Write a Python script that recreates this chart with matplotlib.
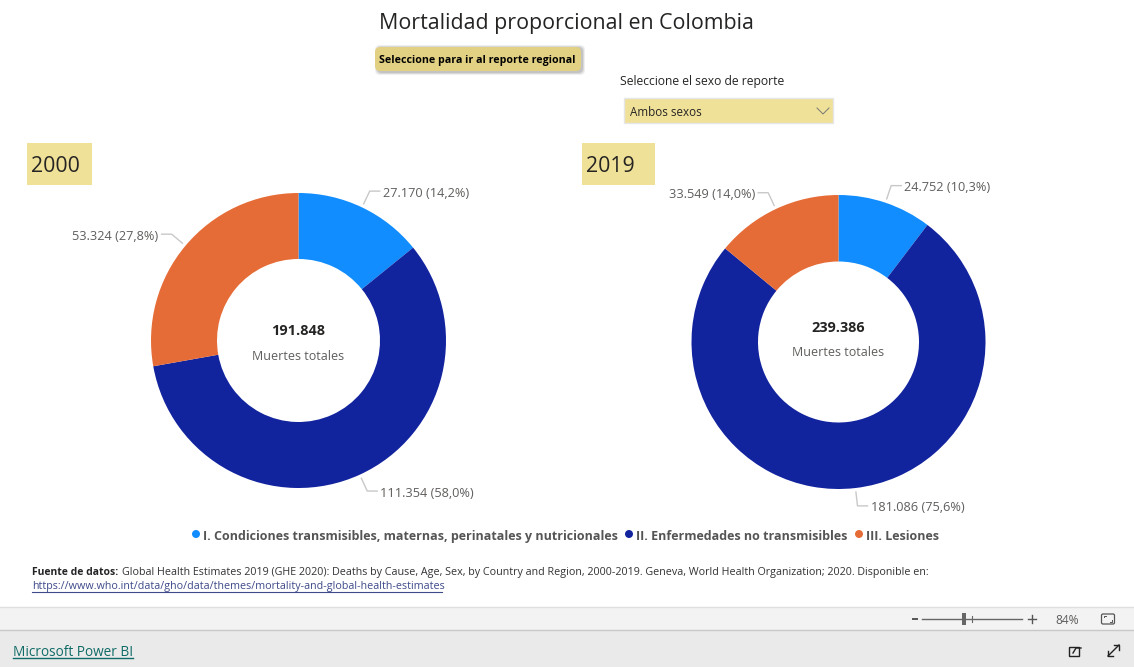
import numpy as np
import matplotlib
matplotlib.use('Agg')
import matplotlib.pyplot as plt
from matplotlib.patches import Rectangle, FancyBboxPatch, Circle

plt.rcParams['font.family'] = ['Open Sans', 'DejaVu Sans']

# Data
years = ['2000', '2019']
values_2000 = [27170, 111354, 53324]
values_2019 = [24752, 181086, 33549]
percent_2000 = ['14,2%', '58,0%', '27,8%']
percent_2019 = ['10,3%', '75,6%', '14,0%']
totals = ['191.848', '239.386']
categories = ['I. Condiciones transmisibles, maternas, perinatales y nutricionales',
              'II. Enfermedades no transmisibles', 'III. Lesiones']
colors = ['#118DFF', '#12239E', '#E66C37']

W, H = 1134, 667
KHAKI = '#F0E199'


def Y(py):
    # pixel row from the top -> data y
    return H - py


def fs(px):
    return px * 72 / 100


fig = plt.figure(figsize=(W / 100, H / 100), dpi=100, facecolor='white')
ax = fig.add_axes([0, 0, 1, 1])


def donut(values, percents, total, cx, cy, r, inner, text_y):
    wedges, _ = ax.pie(values, colors=colors, startangle=90, counterclock=False,
                       center=(cx, Y(cy)), radius=r,
                       wedgeprops=dict(width=r - inner, linewidth=0))
    fractions = np.array(values) / sum(values)
    mids = (np.cumsum(fractions) - fractions / 2) * 2 * np.pi
    for v, p, m in zip(values, percents, mids):
        # leader line leaves the ring radially, then runs flat to the label
        sx, sy = cx + (r + 4) * np.sin(m), cy - (r + 4) * np.cos(m)
        ex, ey = cx + (r + 18) * np.sin(m), cy - (r + 18) * np.cos(m)
        side = 1 if np.sin(m) > 0 else -1
        fx = ex + side * 10
        ax.plot([sx, ex, fx], [Y(sy), Y(ey), Y(ey)], color='#C8C8C8', lw=1)
        txt = f'{v:,}'.replace(',', '.') + f' ({p})'
        ax.text(fx + side * 3, Y(ey + 2), txt, fontsize=fs(12.8), color='#605E5C',
                ha='left' if side > 0 else 'right', va='center')
    ax.text(cx, Y(text_y), total, fontsize=fs(14.5), fontweight='bold', color='#252423',
            ha='center', va='center')
    ax.text(cx, Y(text_y + 25), 'Muertes totales', fontsize=fs(12.5), color='#605E5C',
            ha='center', va='center')


donut(values_2000, percent_2000, totals[0], 298.5, 340.5, 147.5, 81.5, 331)
donut(values_2019, percent_2019, totals[1], 838.5, 342, 147, 80.5, 328)

ax.set_xlim(0, W)
ax.set_ylim(0, H)
ax.set_aspect('auto')
ax.axis('off')

# Title
ax.text(566.5, Y(24), 'Mortalidad proporcional en Colombia', fontsize=fs(21.4), color='#252423',
        ha='center', va='center')

# Button, with a soft shadow
for grow, alpha in zip([3, 2, 1], [0.15, 0.25, 0.35]):
    ax.add_patch(FancyBboxPatch((378 - grow, Y(72) - grow), 204 + 2 * grow, 24 + 2 * grow,
                                boxstyle='round,pad=0,rounding_size=5',
                                fc='#9A9A9A', ec='none', alpha=alpha))
ax.add_patch(FancyBboxPatch((375, Y(71)), 206, 24, boxstyle='round,pad=0,rounding_size=5',
                            fc='#E2D183', ec='none'))
ax.text(477.5, Y(60), 'Seleccione para ir al reporte regional', fontsize=fs(10.6), fontweight='bold',
        color='black', ha='center', va='center')

# Slicer
ax.text(620, Y(82), 'Seleccione el sexo de reporte', fontsize=fs(12.1), color='#252423',
        ha='left', va='center')
ax.add_patch(Rectangle((624, Y(123)), 209, 25, fc=KHAKI, ec='#E6E6E6', lw=1))
ax.text(630, Y(113), 'Ambos sexos', fontsize=fs(11.6), color='#252423', ha='left', va='center')
ax.plot([817, 823, 829], [Y(108), Y(114), Y(108)], color='#777777', lw=0.7)

# Year boxes
ax.add_patch(Rectangle((27, Y(185)), 65, 42, fc=KHAKI, ec='none'))
ax.text(31, Y(166), years[0], fontsize=fs(21.3), color='#252423', ha='left', va='center')
ax.add_patch(Rectangle((582, Y(185)), 73, 42, fc=KHAKI, ec='none'))
ax.text(586, Y(166), years[1], fontsize=fs(21.3), color='#252423', ha='left', va='center')

# Legend
for name, color, tx in zip(categories, colors, [203, 636, 866]):
    ax.add_patch(Circle((tx - 7, Y(534)), 4, fc=color, ec='none'))
    ax.text(tx, Y(540), name, fontsize=fs(12.5), fontweight='bold', color='#555555',
            ha='left', va='baseline')

# Source note
ax.text(32, Y(575), 'Fuente de datos:', fontsize=fs(10.4), fontweight='bold', color='#252423',
        ha='left', va='baseline')
ax.text(122, Y(575), 'Global Health Estimates 2019 (GHE 2020): Deaths by Cause, Age, Sex, by Country '
        'and Region, 2000-2019. Geneva, World Health Organization; 2020. Disponible en:',
        fontsize=fs(10.74), color='#333333', ha='left', va='baseline')
ax.text(32, Y(589), 'https://www.who.int/data/gho/data/themes/mortality-and-global-health-estimates',
        fontsize=fs(10.72), color='#3F4A8A', ha='left', va='baseline')
ax.plot([32, 442], [Y(591.5), Y(591.5)], color='#3F4A8A', lw=0.8)

# Zoom bar and footer
ax.add_patch(Rectangle((0, Y(630)), W, 23, fc='#F3F3F3', ec='none'))
ax.add_patch(Rectangle((0, 0), W, Y(630), fc='#EAEAEA', ec='none'))
ax.plot([0, W], [Y(607), Y(607)], color='#E0E0E0', lw=1)
ax.plot([0, W], [Y(630), Y(630)], color='#C8C8C8', lw=1)
ax.plot([913, 917], [Y(619), Y(619)], color='#555555', lw=1.4)
ax.plot([922, 1022], [Y(619), Y(619)], color='#666666', lw=1)
ax.add_patch(Rectangle((962, Y(625)), 4, 12, fc='#666666', ec='none'))
ax.plot([972, 972], [Y(616), Y(622)], color='#666666', lw=0.8)
ax.plot([1028, 1036], [Y(619), Y(619)], color='#555555', lw=1)
ax.plot([1032, 1032], [Y(615), Y(623)], color='#555555', lw=1)
ax.text(1067, Y(620), '84%', fontsize=fs(12), color='#605E5C', ha='center', va='center')
ax.add_patch(FancyBboxPatch((1101.5, Y(624)), 13, 10, boxstyle='round,pad=0,rounding_size=1.5',
                            fc='none', ec='#555555', lw=0.9))
ax.plot([1104, 1104, 1106], [Y(617), Y(615.5), Y(615.5)], color='#555555', lw=0.7)
ax.plot([1110, 1112, 1112], [Y(622), Y(622), Y(620)], color='#555555', lw=0.7)

ax.text(13, Y(653), 'Microsoft Power BI', fontsize=fs(13.6), color='#0F6B66', ha='left', va='center')
ax.plot([13, 133], [Y(658), Y(658)], color='#0F6B66', lw=1)

# Share and expand icons
ax.add_patch(Rectangle((1069, Y(656)), 10, 9, fc='none', ec='#222222', lw=1))
ax.plot([1073, 1076, 1081], [Y(653), Y(648), Y(648)], color='#222222', lw=1)
ax.plot([1108, 1119], [Y(656), Y(645)], color='#222222', lw=1)
ax.plot([1108, 1108, 1113], [Y(651), Y(656), Y(656)], color='#222222', lw=1)
ax.plot([1114, 1119, 1119], [Y(645), Y(645), Y(650)], color='#222222', lw=1)

plt.savefig('out.png', dpi=100)
